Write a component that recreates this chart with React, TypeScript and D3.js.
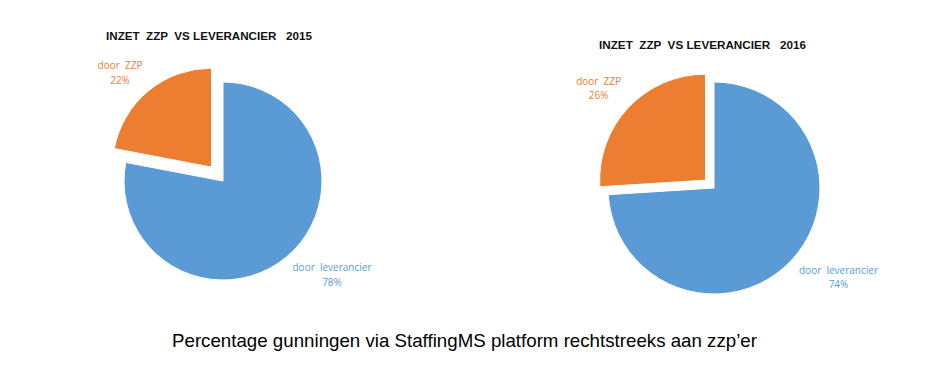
import React from "react";
import * as d3 from "d3";

const categories = ["door  leverancier", "door  ZZP"];
const years = ["2015", "2016"];
const values2015 = [78, 22];
const values2016 = [74, 26];
const titles = ["INZET  ZZP  VS LEVERANCIER   2015", "INZET  ZZP  VS LEVERANCIER   2016"];
const caption = "Percentage gunningen via StaffingMS platform rechtstreeks aan zzp\u2019er";

const colors = ["#5B9BD5", "#ED7D31"];

// layout (not data)
const layout = [
  {
    cx: 223, cy: 181, r: 99, explode: 18,
    title: { x: 106, y: 39.5, w: 206 },
    labels: [ { dx: 109, dy: 90.2 }, { dx: -91.5, dy: -97.7 } ],
  },
  {
    cx: 714, cy: 188, r: 106, explode: 11.5,
    title: { x: 599, y: 49, w: 207 },
    labels: [ { dx: 124.5, dy: 86 }, { dx: -107, dy: -95 } ],
  },
];

const allValues = [values2015, values2016];

function Pie({ values, idx }: { values: number[]; idx: number }) {
  const L = layout[idx];
  const pie = d3.pie<number>().sort(null).value((d) => d)(values);
  const arc = d3.arc<d3.PieArcDatum<number>>().innerRadius(0).outerRadius(L.r);
  const total = d3.sum(values);
  return (
    <g>
      <text
        x={L.title.x}
        y={L.title.y}
        textLength={L.title.w}
        lengthAdjust="spacingAndGlyphs"
        fontFamily="'Liberation Sans', Arial, sans-serif"
        fontWeight="bold"
        fontSize={11.5}
        fill="#111"
        style={{ whiteSpace: "pre" }}
      >
        {titles[idx]}
      </text>
      {pie.map((p, i) => {
        const mid = (p.startAngle + p.endAngle) / 2;
        const off = i === 1 ? L.explode : 0;
        const ox = Math.sin(mid) * off;
        const oy = -Math.cos(mid) * off;
        const lx = L.cx + ox + L.labels[i].dx;
        const ly = L.cy + oy + L.labels[i].dy;
        return (
          <g key={i}>
            <path
              d={arc(p) || ""}
              transform={`translate(${L.cx + ox},${L.cy + oy})`}
              fill={colors[i]}
              stroke="#ffffff"
              strokeWidth={1}
            />
            <text
              x={lx}
              y={ly}
              textAnchor="middle"
              fontFamily="'Open Sans', 'Liberation Sans', sans-serif"
              fontSize={10}
              fill={colors[i]}
              style={{ whiteSpace: "pre" }}
            >
              {categories[i]}
            </text>
            <text
              x={lx}
              y={ly + 14.3}
              textAnchor="middle"
              fontFamily="'Open Sans', 'Liberation Sans', sans-serif"
              fontSize={10}
              fill={colors[i]}
            >
              {`${Math.round((values[i] / total) * 100)}%`}
            </text>
          </g>
        );
      })}
    </g>
  );
}

export default function App() {
  return (
    <svg
      width={928}
      height={376}
      style={{ position: "absolute", left: 0, top: 0, background: "#fff" }}
    >
      <rect width={928} height={376} fill="#fff" />
      {years.map((y, i) => (
        <Pie key={y} values={allValues[i]} idx={i} />
      ))}
      <text
        x={172}
        y={346.5}
        textLength={585}
        lengthAdjust="spacingAndGlyphs"
        fontFamily="'Liberation Sans', Arial, sans-serif"
        fontSize={18.5}
        fill="#000"
      >
        {caption}
      </text>
    </svg>
  );
}
